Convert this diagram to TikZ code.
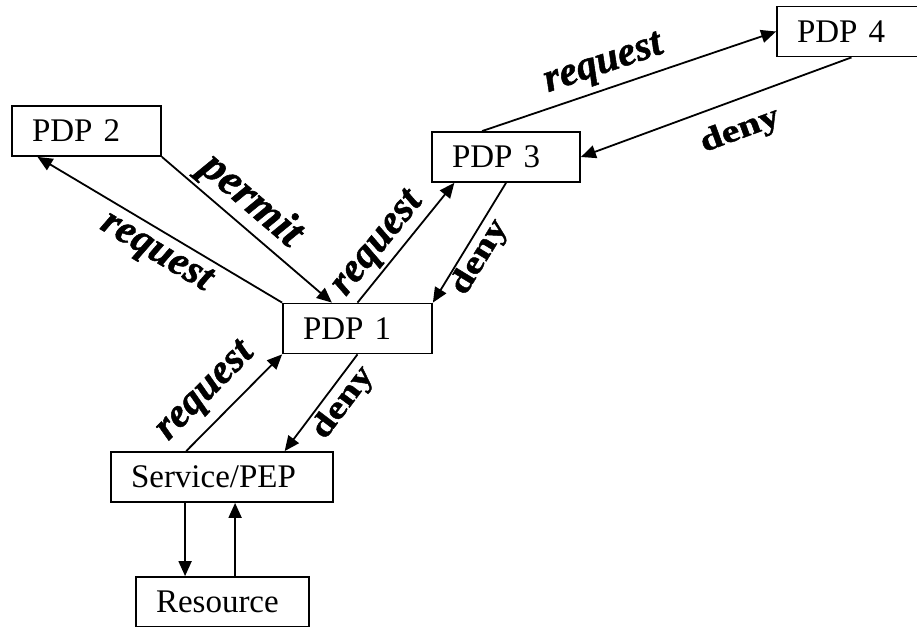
\documentclass[tikz,border=0pt]{standalone}
\usepackage{fontspec}
\setmainfont{Liberation Serif}
\newfontfamily\lblfont{Liberation Serif}[BoldFeatures={FakeBold=1.2},BoldItalicFeatures={FakeBold=1.2}]
\usetikzlibrary{positioning,calc,arrows.meta}
\newcommand{\widelbl}[1]{\scalebox{1.25}[1]{#1}}
\tikzset{
   box/.style={draw,line width=1.8pt,inner xsep=20pt,minimum height=50pt,align=left,font=\fontsize{33}{33}\selectfont},
   arr/.style={-{Triangle[length=15pt,width=13pt]},line width=1.8pt},
   req/.style={sloped,inner sep=0pt,font=\fontsize{41}{41}\lblfont\bfseries\itshape},
   dny/.style={sloped,inner sep=0pt,font=\fontsize{32}{32}\lblfont\bfseries},
}

\begin{document}
\begin{tikzpicture}[x=1pt,y=-1pt]
    \useasboundingbox (0,0) rectangle (917,626);
    \clip (0,0) rectangle (917,626);

    \node[box,text width=109pt] (pdpb) at (86.5,131)  {PDP 2};
    \node[box,text width=109pt] (pdpa) at (357.5,328.5) {PDP 1};
    \node[box,text width=108pt] (pdpc) at (506,157)   {PDP 3};
    \node[box,text width=109pt] (pdpd) at (851.5,31.5) {PDP 4};
    \node[box,text width=182pt] (pep)  at (222,477)   {Service/PEP};
    \node[box,text width=133pt] (res)  at (222.5,602) {Resource};

    \draw[arr] (pdpa.north west) -- ($(pdpb.south west)!.175!(pdpb.south east)$) node[req,pos=.47,below=6pt] {request};
    \draw[arr] (pdpb.south east) -- ($(pdpa.north west)!.33!(pdpa.north east)$) node[req,pos=.43,above=3pt,font=\fontsize{45}{45}\lblfont\bfseries\itshape] {permit};

    \draw[arr] (pdpa.north) -- ($(pdpc.south west)!.155!(pdpc.south east)$) node[req,pos=.38,above=3pt] {request};
    \draw[arr] (pdpc.south) -- (pdpa.north east) node[dny,pos=.55,below=1pt] {\widelbl{deny}};

    \draw[arr] ($(pdpc.north west)!.34!(pdpc.north east)$) -- (pdpd.west) node[req,pos=.44,above=6pt] {request};
    \draw[arr] (pdpd.south) -- (pdpc.east) node[dny,pos=.45,below=15pt] {\widelbl{deny}};

    \draw[arr] ($(pep.north west)!.34!(pep.north east)$) -- (pdpa.south west) node[req,pos=.41,above=10pt] {request};
    \draw[arr] (pdpa.south) -- ($(pep.north west)!.78!(pep.north east)$) node[dny,pos=.39,below=2.5pt] {\widelbl{deny}};

    \coordinate (down) at ($(pep.south west)!.335!(pep.south east)$);
    \coordinate (up) at ($(res.north west)!.572!(res.north east)$);
    \draw[arr] (down) -- (down |- res.north);
    \draw[arr] (up) -- (up |- pep.south);
\end{tikzpicture}
\end{document}
